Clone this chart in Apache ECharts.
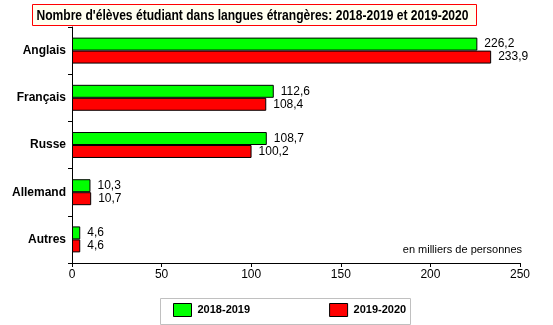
<!DOCTYPE html>
<html>
<head>
<meta charset="utf-8">
<script src="https://cdn.jsdelivr.net/npm/echarts@6/dist/echarts.min.js"></script>
<style>
  html, body { margin: 0; padding: 0; background: #ffffff; }
  #chart { width: 553px; height: 325px; }
</style>
</head>
<body>
<div id="chart"></div>
<script>
// Langues étudiées, effectifs en milliers
const categories = ['Anglais', 'Français', 'Russe', 'Allemand', 'Autres'];
const values2018 = [226.2, 112.6, 108.7, 10.3, 4.6];
const values2019 = [233.9, 108.4, 100.2, 10.7, 4.6];
const seriesNames = ['2018-2019', '2019-2020'];
const xTicks = [0, 50, 100, 150, 200, 250];
const titleText = "Nombre d'élèves étudiant dans langues étrangères: 2018-2019 et 2019-2020";

const chart = echarts.init(document.getElementById('chart'), null, { renderer: 'canvas' });

const fmt = v => v.toFixed(1).replace('.', ',');
const arial = '"Liberation Sans", Arial, sans-serif';

// condensed bold title: measure, then squeeze horizontally into the box
const titleFont = 'bold 15px ' + arial;
const ctx = document.createElement('canvas').getContext('2d');
ctx.font = titleFont;
const titleW = ctx.measureText(titleText).width;
const titleScale = 432 / titleW;

const barLabel = {
  show: true,
  position: 'right',
  distance: 7,
  color: '#000',
  fontFamily: arial,
  fontSize: 12,
  formatter: p => fmt(p.value)
};

chart.setOption({
  animation: false,
  backgroundColor: '#ffffff',
  grid: { left: 72, right: 33, top: 27, bottom: 62, containLabel: false },
  xAxis: {
    type: 'value',
    min: xTicks[0],
    max: xTicks[xTicks.length - 1],
    interval: 50,
    splitLine: { show: false },
    axisLine: { show: true, lineStyle: { color: '#000', width: 1 } },
    axisTick: { show: true, length: 4, lineStyle: { color: '#000' } },
    axisLabel: { color: '#000', fontFamily: arial, fontSize: 12, margin: 6 }
  },
  yAxis: {
    type: 'category',
    data: categories,
    inverse: true,
    axisLine: { show: true, lineStyle: { color: '#000', width: 1 } },
    axisTick: { show: true, length: 4, alignWithLabel: false, lineStyle: { color: '#000' } },
    axisLabel: { color: '#000', fontFamily: arial, fontWeight: 'bold', fontSize: 12, margin: 6 }
  },
  legend: {
    left: 173,
    top: 303,
    padding: 0,
    itemWidth: 18,
    itemHeight: 13,
    itemGap: 79,
    icon: 'rect',
    selectedMode: false,
    itemStyle: { borderColor: '#000', borderWidth: 1 },
    textStyle: { fontFamily: arial, fontWeight: 'bold', fontSize: 11, color: '#000', padding: [0, 0, 0, 1] },
    data: seriesNames
  },
  graphic: [
    {
      type: 'group',
      left: 32, top: 4,
      children: [
        {
          type: 'rect',
          shape: { x: 0, y: 0, width: 444, height: 21 },
          style: { fill: '#fffff0', stroke: '#ff0000', lineWidth: 1 }
        },
        {
          type: 'text',
          x: 4, y: 11,
          scaleX: titleScale,
          style: { text: titleText, fill: '#000', font: titleFont, verticalAlign: 'middle' }
        }
      ]
    },
    {
      type: 'rect',
      left: 158, top: 296,
      shape: { width: 250, height: 26 },
      style: { fill: 'none', stroke: '#c0c0c0', lineWidth: 1 },
      z: 0
    },
    {
      type: 'text',
      right: 31, top: 244,
      style: { text: 'en milliers de personnes', fill: '#000', font: '11px ' + arial }
    }
  ],
  series: [
    {
      name: seriesNames[0],
      type: 'bar',
      data: values2018,
      barGap: '0%',
      barCategoryGap: '45%',
      itemStyle: { color: '#00ff00', borderColor: '#000', borderWidth: 1 },
      label: barLabel
    },
    {
      name: seriesNames[1],
      type: 'bar',
      data: values2019,
      itemStyle: { color: '#ff0000', borderColor: '#000', borderWidth: 1 },
      label: barLabel
    }
  ]
});
</script>
</body>
</html>
